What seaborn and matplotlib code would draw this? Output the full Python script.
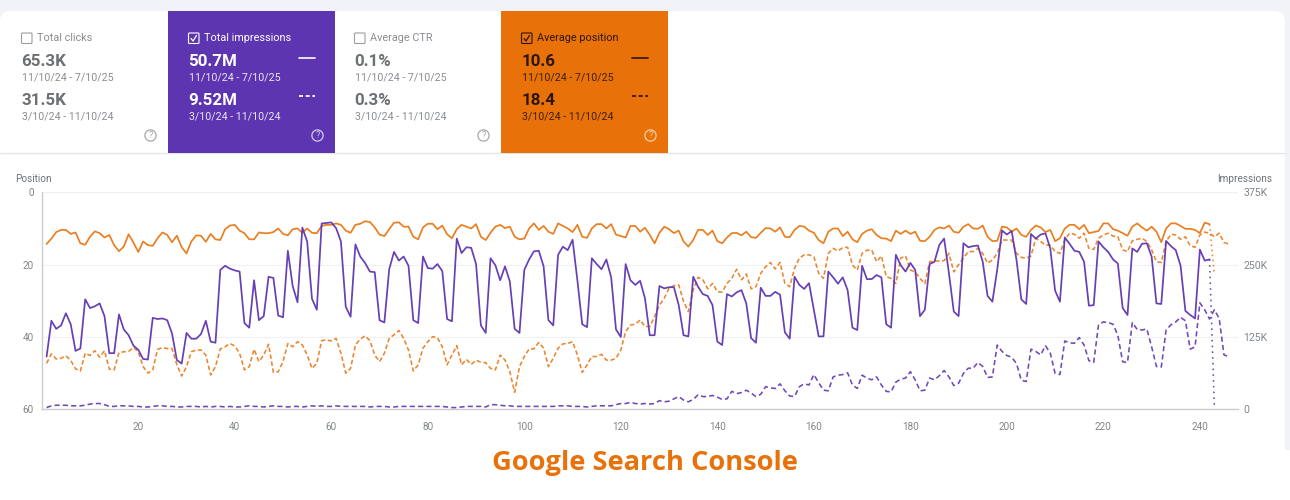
#!/usr/bin/env python3
"""Search Console performance chart: KPI cards, position and impressions lines"""

import matplotlib.pyplot as plt
import numpy as np
import seaborn as sns
from matplotlib.patches import FancyBboxPatch, Rectangle, Circle

sns.set_theme(style="white")
plt.rcParams['font.family'] = ['Roboto', 'DejaVu Sans']

PURPLE = '#5e35b1'
ORANGE = '#e8710a'
GREY_TEXT = '#80868b'
GRID = '#f0f1f3'

# impressions (thousands), 11/10/24 - 7/10/25
impressions_now = [
    91, 153, 139, 145, 166, 147, 101, 105, 190, 175,
    178, 183, 161, 97, 97, 164, 138, 128, 110, 103,
    87, 86, 158, 156, 157, 154, 131, 85, 79, 132,
    122, 122, 130, 153, 117, 115, 241, 248, 243, 240,
    238, 149, 141, 223, 154, 161, 229, 227, 162, 159,
    274, 213, 185, 314, 290, 191, 172, 321, 322, 323,
    313, 290, 177, 160, 285, 264, 253, 238, 237, 154,
    150, 242, 272, 257, 264, 248, 154, 149, 264, 244,
    243, 251, 239, 156, 152, 295, 270, 280, 279, 251,
    145, 132, 261, 249, 223, 247, 221, 139, 132, 241,
    259, 273, 274, 247, 154, 145, 267, 281, 275, 293,
    223, 147, 142, 261, 251, 242, 259, 228, 138, 125,
    251, 223, 215, 222, 192, 128, 128, 213, 209, 211,
    211, 180, 128, 126, 229, 212, 199, 196, 180, 117,
    111, 199, 195, 202, 206, 183, 123, 115, 210, 196,
    196, 203, 198, 133, 122, 229, 215, 208, 218, 172,
    126, 126, 238, 228, 217, 228, 206, 141, 137, 248,
    225, 225, 232, 228, 147, 141, 267, 249, 238, 253,
    241, 161, 172, 251, 255, 284, 295, 235, 169, 161,
    287, 280, 282, 283, 255, 196, 186, 241, 309, 302,
    308, 258, 190, 182, 303, 295, 302, 304, 278, 205,
    186, 297, 286, 274, 272, 255, 179, 180, 290, 280,
    272, 259, 252, 175, 163, 278, 272, 286, 287, 264,
    183, 182, 291, 282, 275, 248, 170, 163, 157, 276,
    257, 259,
]
# impressions (thousands), 3/10/24 - 11/10/24
impressions_prev = [
    3, 6, 7, 7, 7, 6, 6, 6, 7, 9,
    10, 10, 8, 5, 5, 6, 6, 6, 5, 5,
    4, 4, 5, 6, 6, 5, 5, 4, 4, 5,
    5, 5, 4, 5, 4, 5, 5, 4, 5, 4,
    4, 5, 6, 5, 5, 4, 5, 6, 5, 5,
    4, 5, 5, 4, 5, 6, 5, 6, 5, 5,
    6, 5, 5, 5, 5, 5, 5, 4, 5, 5,
    5, 4, 4, 5, 5, 5, 5, 5, 5, 5,
    5, 5, 5, 4, 3, 3, 4, 5, 5, 5,
    5, 4, 8, 8, 7, 6, 6, 5, 5, 5,
    5, 5, 5, 5, 5, 5, 6, 6, 6, 5,
    5, 5, 4, 5, 6, 6, 6, 6, 8, 10,
    10, 12, 10, 9, 10, 9, 10, 15, 13, 14,
    18, 22, 16, 13, 17, 25, 22, 22, 24, 21,
    17, 18, 31, 27, 29, 33, 28, 22, 26, 39,
    37, 36, 44, 32, 23, 22, 39, 44, 42, 60,
    46, 33, 32, 56, 59, 60, 63, 42, 36, 59,
    54, 51, 56, 42, 31, 30, 47, 52, 54, 65,
    51, 32, 33, 54, 51, 58, 67, 56, 41, 45,
    62, 71, 71, 81, 74, 55, 56, 111, 100, 93,
    90, 79, 50, 48, 104, 100, 94, 110, 97, 62,
    60, 118, 115, 114, 124, 111, 84, 81, 146, 151,
    150, 147, 128, 82, 81, 150, 138, 137, 139, 108,
    74, 73, 137, 146, 151, 159, 153, 104, 108, 184,
    172, 156, 172, 157, 94, 91,
]
# average position, 11/10/24 - 7/10/25
position_now = [
    14.3, 12.8, 11.0, 10.4, 10.4, 11.5, 11.1, 14.1, 14.5, 12.3,
    10.8, 11.3, 12.5, 11.8, 14.6, 16.3, 15.0, 11.6, 13.9, 16.5,
    13.6, 14.6, 14.8, 12.7, 11.1, 11.8, 13.8, 12.0, 15.2, 16.9,
    13.6, 11.9, 12.0, 13.7, 11.5, 13.0, 13.2, 10.2, 9.2, 9.0,
    10.6, 11.3, 13.0, 13.0, 11.1, 11.3, 11.3, 11.0, 10.0, 11.5,
    11.9, 10.2, 10.0, 11.2, 10.0, 11.2, 11.3, 9.3, 9.0, 9.0,
    8.6, 9.0, 10.6, 11.2, 9.0, 8.7, 8.0, 8.2, 9.7, 11.7,
    12.1, 10.2, 8.4, 8.3, 9.5, 9.5, 12.3, 13.0, 9.7, 8.7,
    8.7, 10.2, 9.2, 11.6, 12.7, 10.2, 9.0, 9.5, 10.0, 8.8,
    12.3, 13.2, 11.2, 9.5, 9.0, 9.9, 9.5, 12.3, 13.0, 12.8,
    10.0, 8.6, 10.4, 9.3, 10.9, 11.5, 8.6, 9.3, 10.0, 11.0,
    9.0, 12.3, 12.6, 10.0, 8.8, 8.8, 10.0, 8.8, 11.7, 12.1,
    12.5, 9.3, 9.3, 10.9, 9.8, 11.8, 14.1, 11.2, 9.5, 10.2,
    11.3, 10.6, 13.6, 15.0, 13.2, 10.4, 10.4, 11.8, 10.6, 13.5,
    14.1, 12.5, 11.3, 11.2, 11.9, 10.9, 12.4, 12.6, 11.2, 9.9,
    10.0, 10.9, 9.7, 12.3, 12.4, 10.4, 9.3, 9.5, 10.6, 11.2,
    13.2, 14.1, 10.9, 10.0, 10.0, 12.1, 10.9, 13.0, 13.8, 11.5,
    10.6, 10.2, 11.8, 12.7, 12.8, 13.5, 10.6, 11.5, 10.6, 11.5,
    10.9, 13.4, 13.5, 12.3, 10.4, 9.7, 10.0, 9.2, 10.9, 11.2,
    9.5, 8.8, 10.0, 10.1, 9.2, 12.3, 13.5, 13.4, 9.5, 9.7,
    10.9, 10.0, 11.8, 12.3, 10.4, 9.2, 9.7, 11.0, 10.4, 13.5,
    12.7, 10.0, 9.0, 9.0, 10.2, 9.0, 11.3, 11.0, 10.7, 8.6,
    8.6, 10.2, 10.6, 11.3, 12.0, 9.5, 8.6, 9.7, 10.6, 9.5,
    10.9, 13.8, 10.0, 8.6, 8.6, 9.3, 10.1, 10.1, 10.4, 11.3,
    8.4, 8.8,
]
# average position, 3/10/24 - 11/10/24
position_prev = [
    47.3, 44.7, 46.1, 45.9, 45.2, 46.5, 48.8, 49.4, 44.5, 45.1,
    43.8, 45.6, 43.8, 48.9, 49.1, 44.3, 44.1, 44.0, 42.9, 44.1,
    48.2, 50.0, 49.1, 43.4, 43.0, 43.2, 43.2, 47.7, 50.8, 48.2,
    44.1, 43.6, 43.6, 45.0, 50.5, 48.2, 43.3, 42.7, 41.8, 42.5,
    44.5, 49.1, 48.2, 43.4, 46.8, 45.0, 42.0, 49.8, 49.6, 46.8,
    41.8, 42.7, 41.3, 42.2, 45.0, 48.7, 47.3, 41.0, 40.8, 41.1,
    40.4, 44.5, 50.0, 48.7, 42.2, 40.6, 39.7, 41.0, 45.0, 46.8,
    44.5, 40.4, 39.4, 38.2, 40.4, 43.6, 49.4, 47.7, 43.1, 41.3,
    39.9, 40.2, 42.7, 47.7, 45.0, 42.4, 47.7, 46.2, 47.6, 46.4,
    47.0, 47.1, 48.7, 49.1, 45.0, 46.4, 49.6, 55.3, 48.2, 45.4,
    43.3, 43.3, 41.5, 43.1, 48.2, 45.9, 43.1, 41.9, 41.8, 41.3,
    45.0, 49.8, 47.7, 45.4, 45.4, 44.8, 46.4, 46.4, 45.9, 43.6,
    38.5, 36.7, 36.5, 35.3, 37.1, 37.1, 34.4, 31.2, 29.3, 26.5,
    25.8, 25.6, 30.2, 33.0, 27.0, 23.5, 24.2, 26.7, 25.2, 27.5,
    27.6, 25.2, 23.8, 21.3, 24.2, 22.6, 26.7, 26.1, 22.4, 20.6,
    19.4, 21.2, 19.4, 25.2, 26.1, 21.0, 18.2, 17.3, 17.3, 17.8,
    22.4, 23.8, 16.9, 15.5, 16.2, 15.3, 15.2, 20.1, 21.5, 16.9,
    16.0, 16.0, 19.2, 17.6, 23.3, 23.8, 25.2, 18.2, 17.6, 21.5,
    22.0, 23.8, 25.3, 19.2, 19.0, 19.0, 18.9, 16.9, 22.0, 20.0,
    18.2, 16.4, 16.4, 15.5, 16.9, 19.6, 18.7, 16.9, 13.2, 13.2,
    13.2, 16.9, 18.0, 18.2, 17.6, 12.7, 13.6, 14.6, 14.6, 16.4,
    16.9, 13.2, 11.3, 11.6, 12.7, 11.3, 15.5, 15.8, 12.7, 11.8,
    11.3, 12.1, 12.3, 15.9, 16.4, 13.4, 13.0, 12.7, 13.6, 15.9,
    19.2, 19.4, 13.6, 11.6, 11.8, 13.0, 12.3, 14.8, 15.2, 11.8,
    11.0, 11.3, 12.3, 11.3, 13.9, 14.3,
]
# last, still incomplete day of the current period
tail_days = [242, 243]
impressions_tail = [259, 4]
position_tail = [8.8, 22.9]

position_ticks = [0, 20, 40, 60]
impressions_ticks = [0, 125, 250, 375]
impressions_labels = ['0', '125K', '250K', '375K']
day_ticks = list(range(20, 241, 20))

cards = [
    ('Total clicks', '65.3K', '31.5K', 'plain'),
    ('Total impressions', '50.7M', '9.52M', 'purple'),
    ('Average CTR', '0.1%', '0.3%', 'plain'),
    ('Average position', '10.6', '18.4', 'orange'),
]
period_now = '11/10/24 - 7/10/25'
period_prev = '3/10/24 - 11/10/24'


def draw_card(bg, left, title, val_now, val_prev, kind):
    """One KPI tile, bg axes uses image pixels"""
    width = 167
    if kind == 'purple':
        bg.add_patch(Rectangle((left, 11), width, 142, color=PURPLE, lw=0, zorder=2))
        main_c, sub_c, box_c, help_c = 'white', '#ece7f6', 'white', '#d5c9ec'
    elif kind == 'orange':
        bg.add_patch(Rectangle((left, 11), width, 142, color=ORANGE, lw=0, zorder=2))
        main_c, sub_c, box_c, help_c = '#2b1503', '#3d2006', '#2b1503', '#f9cf9f'
    else:
        main_c, sub_c, box_c, help_c = '#6c6f73', '#8a8d91', '#9a9da1', '#a5a8ac'

    bg.add_patch(FancyBboxPatch((left + 20.5, 33), 10.5, 10.5, boxstyle='round,pad=0,rounding_size=1',
                                fc='none', ec=box_c, lw=0.8, zorder=3))
    if kind != 'plain':
        bg.plot([left + 23, left + 25, left + 28.5], [38.5, 41, 35.5], color=box_c, lw=0.9, zorder=4)
        bg.plot([left + 131, left + 147], [57.5, 57.5], color=main_c, lw=1.2, zorder=4)
        bg.plot([left + 131, left + 147], [96, 96], color=main_c, lw=1.3, ls=(0, (2.2, 1.5)), zorder=4)

    title_c = main_c if kind != 'plain' else '#8a8d91'
    bg.text(left + 36, 38, title, color=title_c, fontsize=7.8, va='center', zorder=4)
    bg.text(left + 20.5, 62, val_now, color=main_c, fontsize=12.2, fontweight='bold', va='center', zorder=4)
    bg.text(left + 21, 77.5, period_now, color=sub_c, fontsize=7.7, va='center', zorder=4)
    bg.text(left + 20.5, 100.5, val_prev, color=main_c, fontsize=12.2, fontweight='bold', va='center', zorder=4)
    bg.text(left + 21, 116, period_prev, color=sub_c, fontsize=7.7, va='center', zorder=4)
    bg.add_patch(Circle((left + 149.5, 135.5), 5.6, fc='none', ec=help_c, lw=0.9, zorder=4))
    bg.text(left + 149.5, 135.7, '?', color=help_c, fontsize=6.5, ha='center', va='center', zorder=4)


def main():
    fig = plt.figure(figsize=(12.9, 5.0), dpi=100, facecolor='white')

    # page background and white panel, in image pixels
    bg = fig.add_axes([0, 0, 1, 1])
    bg.set_xlim(0, 1290)
    bg.set_ylim(500, 0)
    bg.axis('off')
    bg.add_patch(Rectangle((0, 0), 1290, 450, color='#f1f3f9', lw=0))
    bg.add_patch(FancyBboxPatch((0, 11), 1285, 460, boxstyle='round,pad=0,rounding_size=10',
                                fc='white', ec='none'))
    bg.add_patch(Rectangle((0, 450), 1290, 50, color='white', lw=0))
    bg.plot([0, 1285], [152.8, 152.8], color='#e3e5e8', lw=0.9)

    for left, (title, val_now, val_prev, kind) in zip([1, 168, 334, 501], cards):
        draw_card(bg, left, title, val_now, val_prev, kind)

    bg.text(15, 178.5, 'Position', color='#6f7377', fontsize=7.2, va='center')
    bg.text(1272, 178.5, 'Impressions', color='#6f7377', fontsize=7.2, va='center', ha='right')
    bg.text(645, 463, 'Google Search Console', color=ORANGE, fontsize=19.6,
            fontweight='bold', family=['Open Sans', 'DejaVu Sans'], ha='center', va='center')

    # plot area spans x 42-1238 and y 192-409 px
    ax = fig.add_axes([42 / 1290, 1 - 409.3 / 500, (1238 - 42) / 1290, (409.3 - 192.3) / 500])
    ax.patch.set_alpha(0)
    ax2 = ax.twinx()
    ax2.patch.set_alpha(0)

    days_pos_now = np.arange(1, len(position_now) + 1)
    days_pos_prev = np.arange(1, len(position_prev) + 1)
    days_imp_now = np.arange(1, len(impressions_now) + 1)
    days_imp_prev = np.arange(1, len(impressions_prev) + 1)

    sns.lineplot(x=days_pos_prev, y=position_prev, ax=ax, color=ORANGE, linewidth=1.15, alpha=0.85,
                 linestyle=(0, (2.8, 1.6)), errorbar=None)
    sns.lineplot(x=days_pos_now, y=position_now, ax=ax, color=ORANGE, linewidth=1.25, alpha=0.9, errorbar=None)
    sns.lineplot(x=tail_days, y=position_tail, ax=ax, color=ORANGE, linewidth=1.15, alpha=0.85,
                 linestyle=(0, (1, 2.2)), errorbar=None)
    sns.lineplot(x=days_imp_prev, y=impressions_prev, ax=ax2, color=PURPLE, linewidth=1.15, alpha=0.9,
                 linestyle=(0, (3.2, 2)), errorbar=None)
    sns.lineplot(x=days_imp_now, y=impressions_now, ax=ax2, color=PURPLE, linewidth=1.25, alpha=0.95, errorbar=None)
    sns.lineplot(x=tail_days, y=impressions_tail, ax=ax2, color=PURPLE, linewidth=1.15, alpha=0.9,
                 linestyle=(0, (1, 2.6)), errorbar=None)

    ax.set_xlim(0.05, 247.9)
    ax.set_ylim(60, 0)
    ax2.set_ylim(0, 375)

    ax.set_yticks(position_ticks)
    ax.set_xticks(day_ticks)
    ax2.set_yticks(impressions_ticks)
    ax2.set_yticklabels(impressions_labels)
    ax.tick_params(axis='y', length=0, pad=6, labelsize=7.2, labelcolor=GREY_TEXT)
    ax.tick_params(axis='x', length=0, pad=9.5, labelsize=7.2, labelcolor=GREY_TEXT)
    ax2.tick_params(axis='y', length=0, pad=4, labelsize=7.6, labelcolor=GREY_TEXT)

    ax.grid(axis='y', color=GRID, lw=0.9)
    ax.grid(axis='x', visible=False)
    ax.set_axisbelow(True)
    for name, spine in ax.spines.items():
        spine.set_visible(name in ('left', 'bottom'))
        spine.set_color('#c9ccd1')
        spine.set_linewidth(1.0)
    for spine in ax2.spines.values():
        spine.set_visible(False)

    fig.savefig('out.png', dpi=100)
    plt.close(fig)


if __name__ == "__main__":
    main()
